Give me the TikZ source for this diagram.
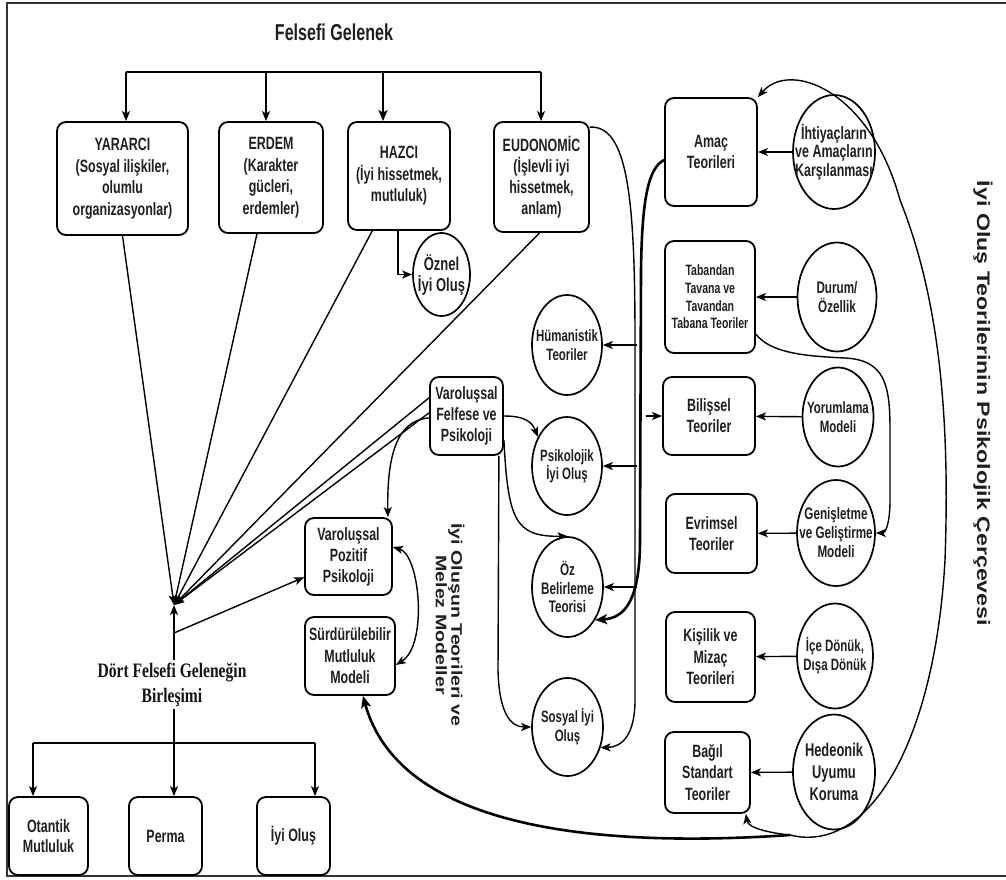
\documentclass[tikz,border=0pt]{standalone}
\usepackage{fontspec}
\usetikzlibrary{shapes.geometric,arrows.meta}
\newfontfamily\cnd{Liberation Sans}[FakeStretch=0.70]
\newfontfamily\wid{Liberation Sans}[FakeStretch=1.28]
\newfontfamily\tms{Liberation Serif}[FakeStretch=0.76]
\newcommand\fz[2]{\fontsize{#1}{#2}\selectfont}
\begin{document}
\begin{tikzpicture}[x=1pt,y=-1pt,
  rbox/.style={draw, line width=1.8pt, rounded corners=9pt, align=center, inner sep=1pt,
               text=black!88, font=\cnd\bfseries\fz{17.8}{21.5}},
  oval/.style={draw, line width=1.7pt, ellipse, inner sep=0pt},
  lbl/.style={align=center, inner sep=0pt, text=black!88, font=\cnd\bfseries#1},
  con/.style={line width=1.4pt},
  arr/.style={con, -{Stealth[length=10pt,width=8pt,inset=2.5pt]}},
  arrb/.style={con, {Stealth[length=10pt,width=8pt,inset=2.5pt]}-{Stealth[length=10pt,width=8pt,inset=2.5pt]}},
  arrk/.style={line width=2.6pt, -{Stealth[length=12pt,width=10pt,inset=3pt]}},
  arrt/.style={line width=2pt, -{Stealth[length=11pt,width=9pt,inset=2.5pt]}},
  bar/.style={line width=2.2pt},
  frame/.style={line width=1.6pt, draw=black!80}]
\useasboundingbox (0,0) rectangle (1006,879);
\draw[frame] (1006,3) -- (7,3) -- (7,876) -- (1006,876);

% ---- title and the four traditions
\node[text=black!88, font=\cnd\bfseries\fz{23}{27}] (ttl) at (334,32) {Felsefi Gelenek};
\node[rbox, minimum width=131pt, minimum height=113pt] (yar) at (122.5,178.5) {YARARCI\\(Sosyal ilişkiler,\\olumlu\\organizasyonlar)};
\node[rbox, minimum width=104pt, minimum height=111pt] (erd) at (271,177.5) {ERDEM\\(Karakter\\gücleri,\\erdemler)};
\node[rbox, minimum width=102pt, minimum height=108pt] (haz) at (399,176) {HAZCI\\(İyi hissetmek,\\mutluluk)};
\node[rbox, minimum width=95pt, minimum height=110pt, font=\cnd\bfseries\fz{17.8}{21}] (eud) at (541.5,177) {EUDONOMİC\\(İşlevli iyi\\hissetmek,\\anlam)};
\node[oval, minimum width=57pt, minimum height=83pt,
      label={[lbl=\fz{18.6}{21}]center:{Öznel\\İyi Oluş}}] (ozn) at (441.5,274.5) {};

% ---- hybrid models
\node[rbox, minimum width=73pt, minimum height=78pt, font=\cnd\bfseries\fz{17.8}{21}] (vfp) at (466.5,416) {Varoluşsal\\Felfese ve\\Psikoloji};
\node[rbox, minimum width=87pt, minimum height=77pt, font=\cnd\bfseries\fz{17.8}{21}] (pzt) at (348.5,556.5) {Varoluşsal\\Pozitif\\Psikoloji};
\node[rbox, minimum width=90pt, minimum height=78pt] (sur) at (350,656) {Sürdürülebilir\\Mutluluk\\Modeli};
\node[rotate=-90, align=center, text=black!88, font=\wid\bfseries\fz{15.3}{15.5}] (hyb) at (450,625) {İyi Oluşun Teorileri ve\\Melez Modeller};

% ---- middle circles
\node[oval, minimum width=70pt, minimum height=100pt,
      label={[lbl=\fz{16.4}{19.3}]center:{Hümanistik\\Teoriler}}] (hum) at (567,345) {};
\node[oval, minimum width=70pt, minimum height=98pt,
      label={[lbl=\fz{16.4}{18.5}]center:{Psikolojik\\İyi Oluş}}] (psi) at (567,466) {};
\node[oval, minimum width=71pt, minimum height=100pt,
      label={[lbl=\fz{16.7}{18.5}]center:{Öz\\Belirleme\\Teorisi}}] (oz) at (567.5,587) {};
\node[oval, minimum width=71pt, minimum height=98pt,
      label={[lbl=\fz{16.4}{19}]center:{Sosyal İyi\\Oluş}}] (sos) at (567.5,727) {};

% ---- psychological theories
\node[rbox, minimum width=92pt, minimum height=108pt] (ama) at (711,152) {Amaç\\Teorileri};
\node[rbox, minimum width=90pt, minimum height=112pt, font=\cnd\bfseries\fz{15}{17.7}] (tab) at (710,297) {Tabandan\\Tavana ve\\Tavandan\\Tabana Teoriler};
\node[rbox, minimum width=92pt, minimum height=78pt, font=\cnd\bfseries\fz{17.8}{21}] (bil) at (709,416) {Bilişsel\\Teoriler};
\node[rbox, minimum width=91pt, minimum height=79pt, font=\cnd\bfseries\fz{17.8}{21}] (evr) at (711.5,533.5) {Evrimsel\\Teoriler};
\node[rbox, minimum width=89pt, minimum height=90pt] (kis) at (710.5,657) {Kişilik ve\\Mizaç\\Teorileri};
\node[rbox, minimum width=85pt, minimum height=81pt] (bag) at (707.5,772.5) {Bağıl\\Standart\\Teoriler};

\node[oval, minimum width=82pt, minimum height=114pt,
      label={[lbl=\fz{17.8}{18.5}]center:{İhtiyaçların\\ve Amaçların\\Karşılanması}}] (ihti) at (834,152) {};
\node[oval, minimum width=79pt, minimum height=109pt,
      label={[lbl=\fz{16.7}{19.3}]center:{Durum/\\Özellik}}] (dur) at (837,297) {};
\node[oval, minimum width=71pt, minimum height=99pt,
      label={[lbl=\fz{16.4}{19}]center:{Yorumlama\\Modeli}}] (yor) at (838,417) {};
\node[oval, minimum width=78pt, minimum height=106pt,
      label={[lbl=\fz{16.7}{19}]center:{Genişletme\\ve Geliştirme\\Modeli}}] (gen) at (836,533) {};
\node[oval, minimum width=76pt, minimum height=105pt,
      label={[lbl=\fz{16.4}{19.3}]center:{İçe Dönük,\\Dışa Dönük}}] (ice) at (835,656) {};
\node[oval, minimum width=82pt, minimum height=115pt,
      label={[lbl=\fz{18.4}{21.7}]center:{Hedeonik\\Uyumu\\Koruma}}] (hed) at (834,772) {};

\node[rotate=-90, text=black!88, font=\wid\bfseries\fz{18.1}{22}] (frm) at (983,403.5) {İyi Oluş Teorilerinin Psikolojik Çerçevesi};

% ---- synthesis
\node[text=black!92, align=center, inner sep=2pt, font=\tms\bfseries\fz{20.5}{25}] (dort) at (172,684.5) {Dört Felsefi Geleneğin\\Birleşimi};
\node[rbox, minimum width=79pt, minimum height=78pt, font=\cnd\bfseries\fz{17.8}{20}] (ota) at (48.5,836) {Otantik\\Mutluluk};
\node[rbox, minimum width=73pt, minimum height=78pt] (per) at (165.5,836) {Perma};
\node[rbox, minimum width=73pt, minimum height=78pt] (iyo) at (293.5,836) {İyi Oluş};

% ---- helper points
\coordinate (P) at (174,605);
\coordinate (S1) at (174,633);
\coordinate (J) at (790,835);
\coordinate (a1) at (126,72);
\coordinate (a2) at (266,72);
\coordinate (a3) at (383,72);
\coordinate (a4) at (541,72);
\coordinate (hx) at (398,0);
\coordinate (vl) at (637,0);
\coordinate (bs) at (646,416);
\coordinate (bL) at (33,743);
\coordinate (bR) at (315,743);

% ---- top distribution
\draw[bar] (a1) -- (a4);
\draw[arr] (a1) -- (a1 |- yar.north);
\draw[arr] (a2) -- (a2 |- erd.north);
\draw[arrt] (a3) -- (a3 |- haz.north);
\draw[arr] (a4) -- (a4 |- eud.north);
\draw[arr] (haz.south -| hx) |- (ozn.west);

% ---- fan into the synthesis
\draw[arr] (yar.south) -- (P);
\draw[arr] (erd.-104) -- (P);
\draw[arr] (haz.-116) -- (P);
\draw[arr] (eud.-92) -- (P);
\draw[arr] (vfp.154) -- (P);
\draw[arr] (vfp.175) -- (P);
\draw[arr] (dort.north -| P) -- (P);
\draw[arr] (S1) -- (pzt.205);

% ---- synthesis outputs
\draw[arr] (dort.south -| P) -- (P |- per.north);
\draw[bar] (bL) -- (bR);
\draw[arr] (bL) -- (bL |- ota.north);
\draw[arr] (bR) -- (bR |- iyo.north);

% ---- hybrid model links
\draw[arr] (vfp.183) .. controls (395,420) and (387,460) .. ([xshift=-5pt]pzt.north east);
\draw[arrb] (pzt.12) .. controls (420,555) and (428,645) .. (sur.-11);
\draw[arr] (vfp.east) .. controls (525,416) and (532,422) .. (psi.135);
\draw[arr] ([yshift=-24pt]vfp.east) .. controls (508,520) and (515,537) .. (oz.north);
\draw[arr] ([xshift=-5pt]vfp.south east) -- (498,670) .. controls (499,712) and (510,727) .. (sos.west);

% ---- eudaimonic branch
\draw[arr] ([yshift=-6pt]eud.north east) .. controls (628,125) and (635,200) .. (635,340) -- (635,700) .. controls (635,735) and (622,747) .. (sos.-32);
\draw[arr] (hum.east -| vl) -- (hum.east);
\draw[arr] (psi.east -| vl) -- (psi.east);
\draw[arr] (oz.east -| vl) -- (oz.east);
\draw[arrk] ([yshift=-8pt]ama.west) .. controls (648,168) and (642,200) .. (641,270) -- (640,540) .. controls (640,600) and (625,618) .. (oz.-50);
\draw[arr] (bs) -- (bil.west);

% ---- theory inputs
\draw[arr] (ihti) -- (ama);
\draw[arr] (dur) -- (tab);
\draw[arr] (yor) -- (bil);
\draw[arr] (gen) -- (evr);
\draw[arr] (ice) -- (kis);
\draw[arr] (hed) -- (bag);
\draw[arr] (tab.-39) .. controls (770,352) and (800,356) .. (845,358) .. controls (885,360) and (890,385) .. (890,430) -- (890,500) .. controls (890,525) and (885,533) .. (gen.east);

% ---- outer loop
\draw[arrk] (J) .. controls (600,848) and (400,830) .. (sur.-72);
\draw[arr] (J) .. controls (770,833) and (748,828) .. ([xshift=-5pt]bag.south east);
\draw[arr] (J) .. controls (870,855) and (935,740) .. (945,560) .. controls (950,420) and (940,300) .. (900,200) .. controls (870,90) and (790,60) .. (ama.north east);
\end{tikzpicture}
\end{document}
